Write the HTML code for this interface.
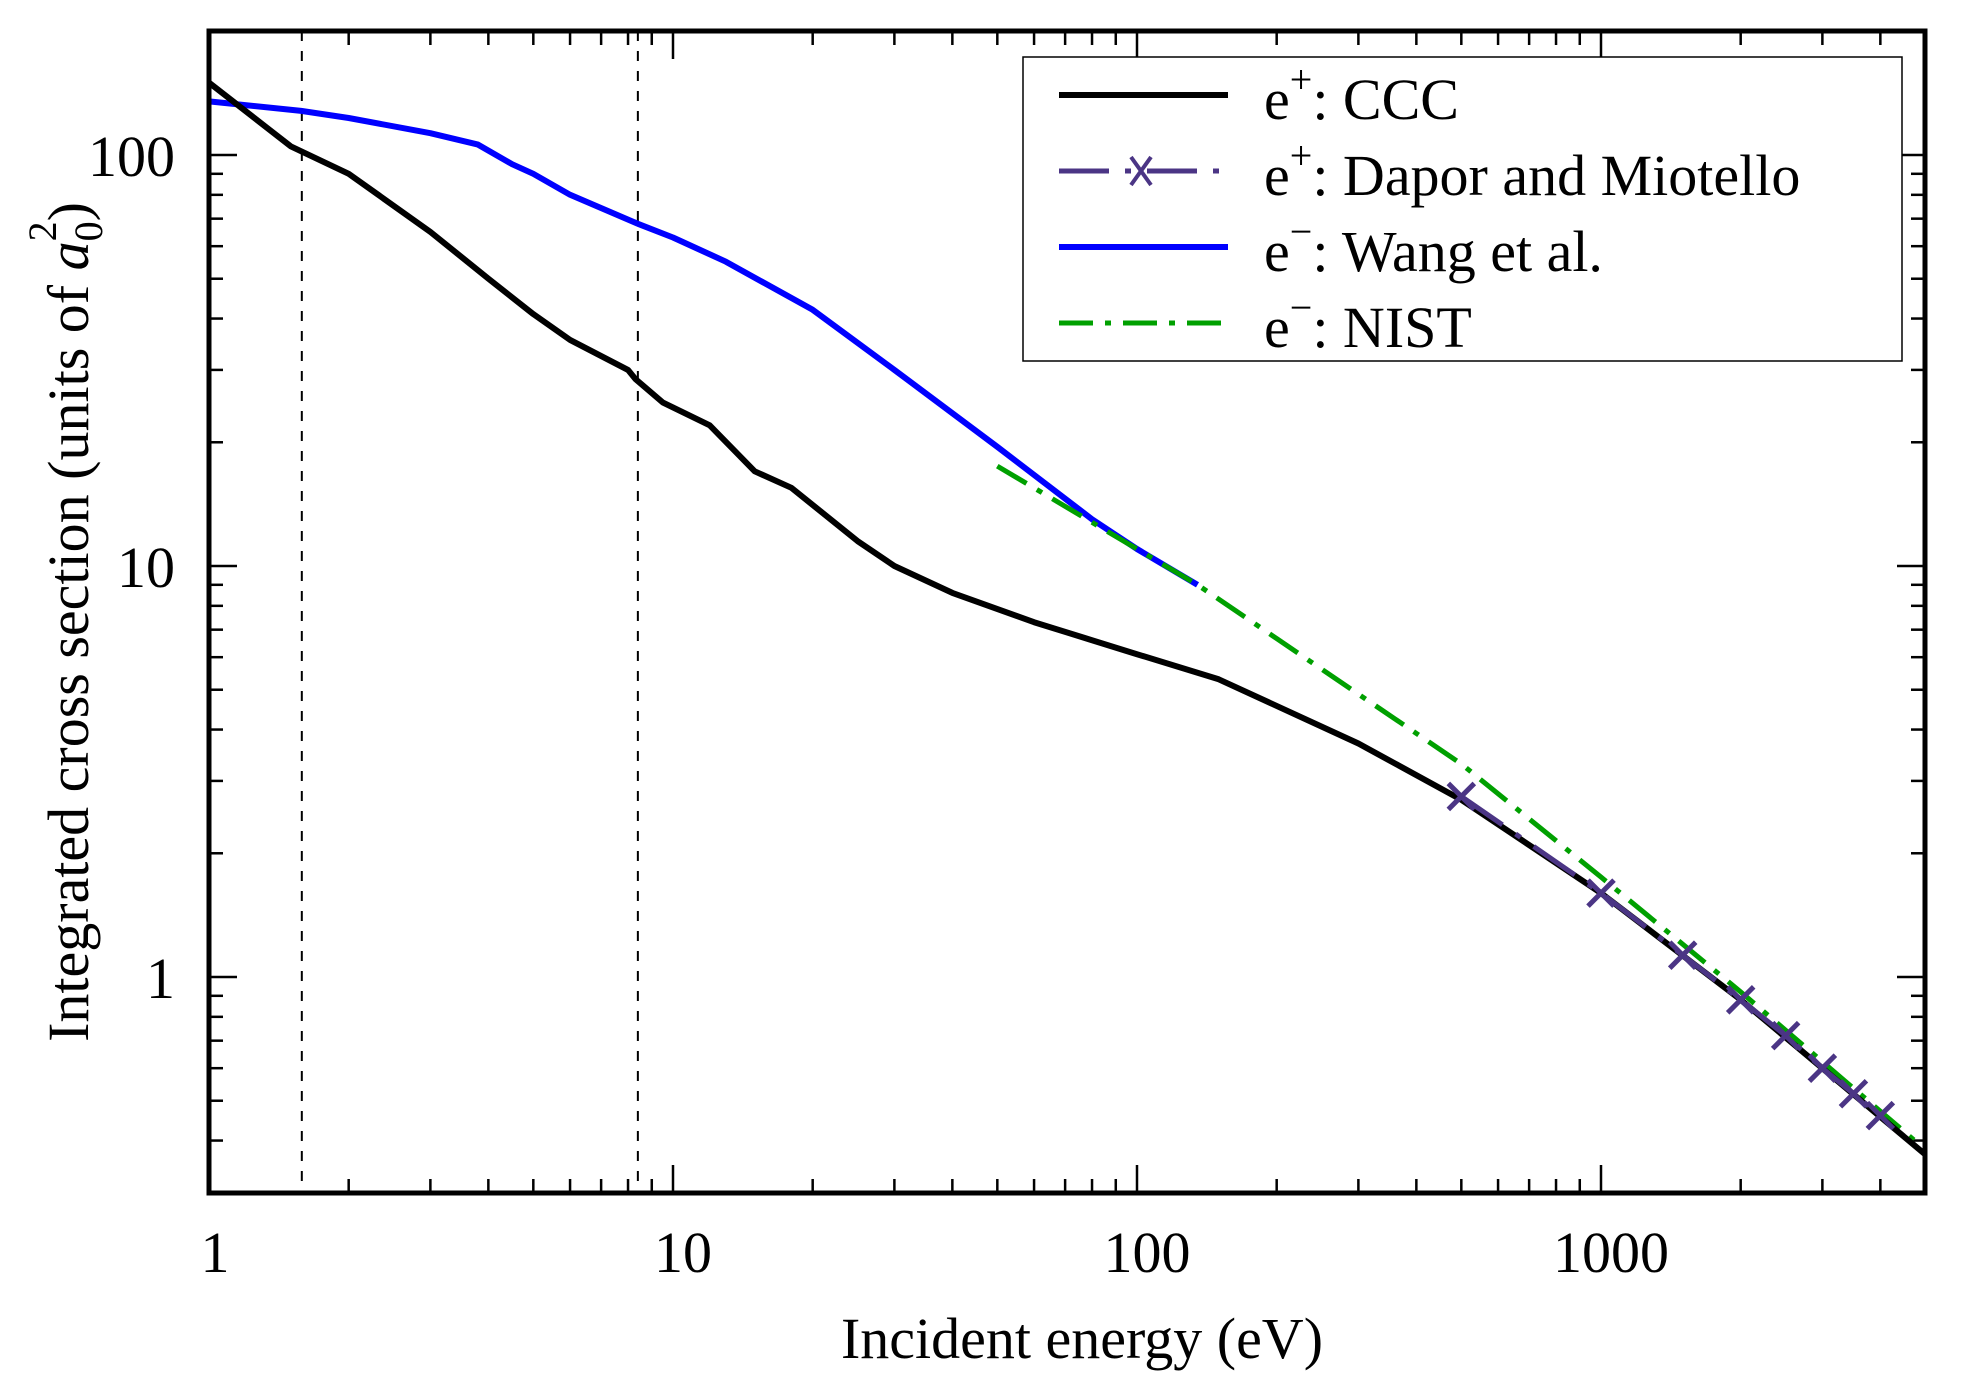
<!DOCTYPE html>
<html><head><meta charset="utf-8"><style>
html,body{margin:0;padding:0;background:#fff;}
svg{display:block;}
text{font-family:"Liberation Serif",serif;fill:#000;}
</style></head><body>
<svg id="s" width="1964" height="1394" viewBox="0 0 1964 1394" xmlns="http://www.w3.org/2000/svg">
<g id="g"></g>
<rect x="209" y="31" width="1716" height="1162" fill="none" stroke="#000" stroke-width="5"/>
<rect x="1023" y="57" width="879" height="304" fill="#fff" stroke="#000" stroke-width="1.5"/>
<line x1="1059" y1="95" x2="1228" y2="95" stroke="#000" stroke-width="6"/>
<line x1="1059" y1="171" x2="1228" y2="171" stroke="#4b3585" stroke-width="5" stroke-dasharray="50,16,6,16"/>
<path d="M1131 157 L1151 185 M1131 185 L1151 157" stroke="#4b3585" stroke-width="4"/>
<line x1="1059" y1="247" x2="1228" y2="247" stroke="#0000ff" stroke-width="6"/>
<line x1="1059" y1="323" x2="1228" y2="323" stroke="#00a000" stroke-width="5" stroke-dasharray="34,12,6,12"/>
<text x="1264" y="119" font-size="58">e<tspan dy="-26" font-size="40">+</tspan><tspan dy="26">: CCC</tspan></text>
<text x="1264" y="195" font-size="58">e<tspan dy="-26" font-size="40">+</tspan><tspan dy="26">: Dapor and Miotello</tspan></text>
<text x="1264" y="271" font-size="58">e<tspan dy="-26" font-size="40">−</tspan><tspan dy="26">: Wang et al.</tspan></text>
<text x="1264" y="347" font-size="58">e<tspan dy="-26" font-size="40">−</tspan><tspan dy="26">: NIST</tspan></text>
<text x="175" y="176" font-size="58" text-anchor="end">100</text>
<text x="175" y="587" font-size="58" text-anchor="end">10</text>
<text x="175" y="998" font-size="58" text-anchor="end">1</text>
<text x="215" y="1272" font-size="58" text-anchor="middle">1</text>
<text x="683" y="1272" font-size="58" text-anchor="middle">10</text>
<text x="1147" y="1272" font-size="58" text-anchor="middle">100</text>
<text x="1611" y="1272" font-size="58" text-anchor="middle">1000</text>
<text x="1082" y="1358" font-size="58" text-anchor="middle">Incident energy (eV)</text>
<text transform="translate(88,622) rotate(-90)" font-size="58" text-anchor="middle">Integrated cross section (units of <tspan font-style="italic">a</tspan><tspan dy="14" font-size="40">0</tspan><tspan dy="-46" dx="-20" font-size="40">2</tspan><tspan dy="32">)</tspan></text>
</svg>
<script>
var NS="http://www.w3.org/2000/svg",g=document.getElementById('g');
function X(e){return 209+464*Math.log10(e);}
function Y(v){return 977-411*Math.log10(v);}
function el(t,a){var n=document.createElementNS(NS,t);for(var k in a)n.setAttribute(k,a[k]);g.appendChild(n);return n;}
function L(x1,y1,x2,y2,w){el('line',{x1:x1,y1:y1,x2:x2,y2:y2,stroke:'#000','stroke-width':w});}
for(var d=1;d<=1000;d*=10)for(var m=1;m<=9;m++){var e=d*m;if(e>5000)continue;var x=X(e),len=m==1?28:14;
L(x,1193,x,1193-len,2.5);L(x,31,x,31+len,2.5);}
for(var d=0.1;d<=100;d*=10)for(var m=1;m<=9;m++){var v=d*m;if(v<0.3||v>200)continue;var y=Y(v),len=m==1?28:14;
L(209,y,209+len,y,2.5);L(1925,y,1925-len,y,2.5);}
[1.585,8.4].forEach(function(e){el('line',{x1:X(e),y1:31,x2:X(e),y2:1193,stroke:'#000','stroke-width':2,'stroke-dasharray':'10,10'});});
function P(pts,a){var d=pts.map(function(p,i){return (i?'L':'M')+X(p[0]).toFixed(1)+' '+Y(p[1]).toFixed(1);}).join(' ');a.d=d;a.fill='none';a['stroke-linejoin']='round';el('path',a);}
P([[1,135],[1.58,128],[2,123],[3,113],[3.8,106],[4.5,95],[5,90],[6,80],[8.4,68],[10,63],[13,55],[20,42],[30,30],[50,19.5],[80,13],[100,11],[135,9]],{stroke:'#0000ff','stroke-width':6});
P([[50,17.5],[100,11],[135,9],[200,6.66],[300,4.88],[500,3.3],[1000,1.75],[2000,0.92],[5000,0.38]],{stroke:'#00a000','stroke-width':5,'stroke-dasharray':'34,12,6,12'});
P([[1,150],[1.5,105],[2,90],[3,65],[4,50],[5,41],[6,35.5],[8,30],[8.3,28.5],[9.5,25],[12,22],[15,17],[18,15.5],[25,11.5],[30,10],[40,8.6],[60,7.3],[80,6.6],[100,6.1],[150,5.3],[300,3.7],[500,2.7],[1000,1.6],[2000,0.88],[5000,0.37]],{stroke:'#000','stroke-width':6});
var mk=[[500,2.75],[1000,1.6],[1500,1.13],[2000,0.88],[2500,0.72],[3000,0.6],[3500,0.52],[4000,0.46]];
P(mk,{stroke:'#4b3585','stroke-width':5,'stroke-dasharray':'50,16,6,16'});
mk.forEach(function(p){var x=X(p[0]),y=Y(p[1]);el('path',{d:'M'+(x-13)+' '+(y-13)+'L'+(x+13)+' '+(y+13)+'M'+(x-13)+' '+(y+13)+'L'+(x+13)+' '+(y-13),stroke:'#4b3585','stroke-width':5});});
</script>
</body></html>
